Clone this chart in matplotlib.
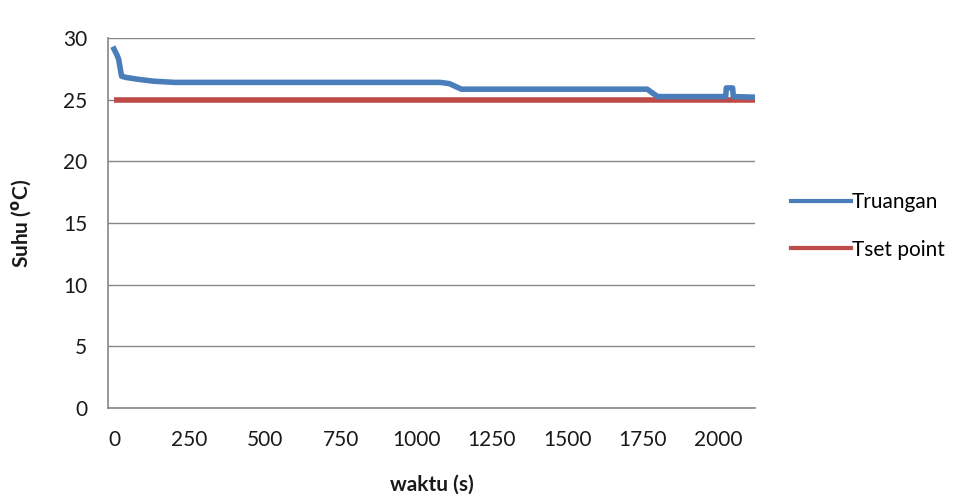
import matplotlib
matplotlib.use("Agg")
import matplotlib.pyplot as plt
from matplotlib.lines import Line2D

# Data
waktu = [0, 10, 15, 25, 40, 80, 130, 200, 1080, 1110, 1150, 1765, 1785, 1800,
         2025, 2027, 2048, 2050, 2122]
truangan = [29.1, 28.6, 28.3, 26.9, 26.8, 26.65, 26.5, 26.4, 26.4, 26.3, 25.85,
            25.85, 25.5, 25.25, 25.25, 25.95, 25.95, 25.25, 25.2]
waktu_set = [0, 2122]
tset_point = [25, 25]

x_ticks = [0, 250, 500, 750, 1000, 1250, 1500, 1750, 2000]
y_ticks = [0, 5, 10, 15, 20, 25, 30]

blue = "#4A7EBB"
red = "#BE4B48"
grid_c = "#868686"
text_c = "#1a1a1a"

plt.rcParams['font.family'] = ['Lato', 'DejaVu Sans']
FS = 15

fig = plt.figure(figsize=(9.70, 4.97), dpi=100)
ax = fig.add_axes([108/970, 1-408/497, (755-108)/970, (408-38)/497])

ax.plot(waktu_set, tset_point, color=red, lw=4, solid_capstyle='butt', zorder=3)
ax.plot(waktu, truangan, color=blue, lw=4, solid_joinstyle='round', zorder=4)

ax.set_xlim(-20, 2122)
ax.set_ylim(0, 30)
ax.set_xticks(x_ticks)
ax.set_yticks(y_ticks)
ax.tick_params(axis='both', length=0, labelsize=FS, colors=text_c)
ax.tick_params(axis='y', pad=15)
ax.tick_params(axis='x', pad=16)

ax.grid(axis='y', color=grid_c, lw=1)
ax.set_axisbelow(True)
for s in ['top', 'right']:
    ax.spines[s].set_visible(False)
for s in ['left', 'bottom']:
    ax.spines[s].set_color(grid_c)
    ax.spines[s].set_linewidth(1.2)

ax.set_xlabel("waktu (s)", fontsize=FS, fontweight='bold', color=text_c)
ax.xaxis.set_label_coords((432-108)/647, (408-485)/370)
ax.xaxis.label.set_va('center')
ax.set_ylabel(r"Suhu ($^{\mathbf{o}}$C)", fontsize=FS, fontweight='bold', color=text_c)
ax.yaxis.set_label_coords((22-108)/647, 0.5)
ax.yaxis.label.set_va('center')

handles = [Line2D([], [], color=blue, lw=3), Line2D([], [], color=red, lw=3)]
fig.legend(handles, ["Truangan", "Tset point"], loc='center left',
           bbox_to_anchor=(772/970, 1-226/497), frameon=False, fontsize=FS,
           handlelength=2.9, handletextpad=0.05, labelspacing=1.3)

fig.savefig("out.png", dpi=100, facecolor='white')
